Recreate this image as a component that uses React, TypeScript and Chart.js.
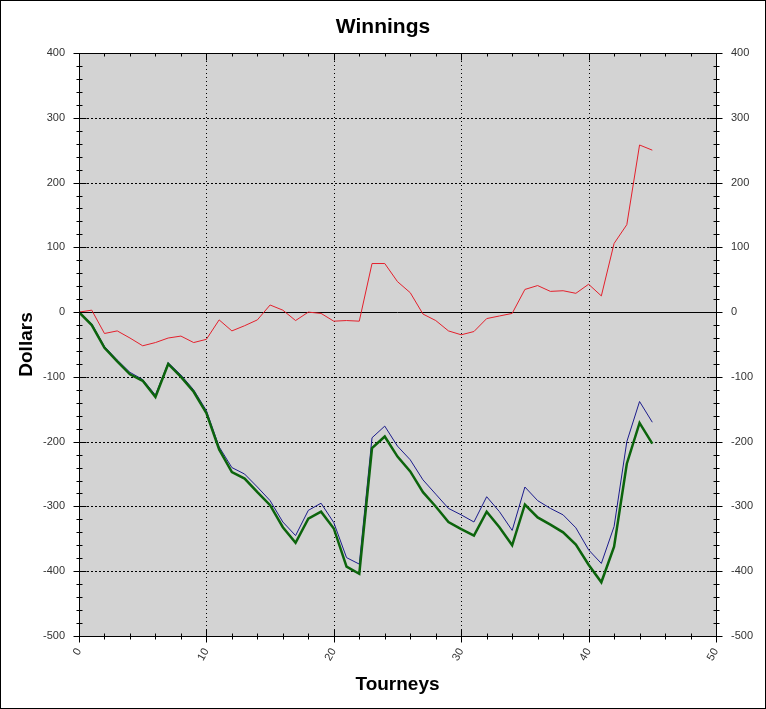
import { useEffect, useRef } from "react"
import { Chart, registerables } from "chart.js"

Chart.register(...registerables)

// Tourney number (x) and the three running totals
const tourneys = [
  0, 1, 2, 3, 4, 5, 6, 7, 8, 9, 10, 11, 12, 13, 14, 15, 16, 17, 18, 19, 20, 21, 22,
  23, 24, 25, 26, 27, 28, 29, 30, 31, 32, 33, 34, 35, 36, 37, 38, 39, 40, 41, 42, 43, 44, 45,
]
const redLine = [
  0, 3, -33, -29, -40, -52, -47, -40, -37, -47, -42, -12, -29, -21, -12, 11, 3, -13, 0, -2, -14, -13, -14,
  75, 75, 47, 30, -3, -13, -29, -35, -30, -10, -6, -2, 35, 41, 32, 33, 29, 43, 25, 106, 135, 258, 250,
]
const blueLine = [
  0, -18, -53, -74, -93, -104, -128, -78, -97, -120, -152, -208, -240, -250, -270, -291, -324, -345, -306, -295, -325, -379, -389,
  -194, -176, -207, -228, -259, -281, -303, -313, -324, -285, -308, -337, -270, -291, -303, -313, -333, -367, -388, -331, -200, -138, -170,
]
const greenLine = [
  0, -20, -55, -76, -96, -106, -131, -80, -100, -123, -156, -212, -247, -257, -278, -298, -332, -356, -319, -308, -334, -393, -404,
  -210, -192, -223, -246, -278, -300, -324, -335, -345, -308, -332, -360, -297, -317, -328, -340, -359, -390, -417, -362, -234, -171, -203,
]

const xGridLines = [10, 20, 30, 40]
const yGridLines = [-400, -300, -200, -100, 100, 200, 300]

const FONT = "'Liberation Sans', Arial, sans-serif"

const toPoints = (vals: number[]) => vals.map((y, i) => ({ x: tourneys[i], y }))

const framePlugin = {
  id: "frame",
  beforeDraw(chart: any) {
    const { ctx, chartArea: a, width, height } = chart
    ctx.save()
    ctx.fillStyle = "#fff"
    ctx.fillRect(0, 0, width, height)
    ctx.fillStyle = "#d3d3d3"
    ctx.fillRect(a.left, a.top, a.right - a.left, a.bottom - a.top)
    ctx.restore()
  },
  beforeDatasetsDraw(chart: any) {
    const { ctx, chartArea: a } = chart
    const xs = chart.scales.x
    const ys = chart.scales.y
    ctx.save()
    ctx.strokeStyle = "#000"
    ctx.lineWidth = 1
    // dotted grid
    ctx.setLineDash([1, 3])
    xGridLines.forEach((v) => {
      const px = Math.round(xs.getPixelForValue(v)) + 0.5
      ctx.beginPath()
      ctx.moveTo(px, a.top)
      ctx.lineTo(px, a.bottom)
      ctx.stroke()
    })
    ctx.setLineDash([2, 2])
    yGridLines.forEach((v) => {
      const py = Math.round(ys.getPixelForValue(v)) + 0.5
      ctx.beginPath()
      ctx.moveTo(a.left, py)
      ctx.lineTo(a.right, py)
      ctx.stroke()
    })
    // zero line
    ctx.setLineDash([])
    const zy = Math.round(ys.getPixelForValue(0)) + 0.5
    ctx.beginPath()
    ctx.moveTo(a.left, zy)
    ctx.lineTo(a.right, zy)
    ctx.stroke()
    ctx.restore()
  },
  afterDraw(chart: any) {
    const { ctx, chartArea: a, width, height } = chart
    const xs = chart.scales.x
    const ys = chart.scales.y
    const L = Math.round(a.left) + 0.5
    const R = Math.round(a.right) + 0.5
    const T = Math.round(a.top) + 0.5
    const B = Math.round(a.bottom) + 0.5
    ctx.save()
    ctx.strokeStyle = "#000"
    ctx.lineWidth = 1
    ctx.beginPath()
    ctx.moveTo(L, T)
    ctx.lineTo(R, T)
    ctx.lineTo(R, B)
    ctx.lineTo(L, B)
    ctx.closePath()
    // x ticks, minor every 2, major every 10
    for (let v = 0; v <= 50; v += 2) {
      const px = Math.round(xs.getPixelForValue(v)) + 0.5
      const major = v % 10 === 0
      ctx.moveTo(px, B - (major ? 7 : 3))
      ctx.lineTo(px, B + (major ? 6 : 3))
      ctx.moveTo(px, T)
      ctx.lineTo(px, T + (major ? 7 : 3))
    }
    // y ticks, minor every 20, major every 100
    for (let v = -500; v <= 400; v += 20) {
      const py = Math.round(ys.getPixelForValue(v)) + 0.5
      const major = v % 100 === 0
      ctx.moveTo(L - (major ? 6 : 3), py)
      ctx.lineTo(L + (major ? 7 : 3), py)
      ctx.moveTo(R - (major ? 7 : 3), py)
      ctx.lineTo(R + (major ? 6 : 3), py)
    }
    ctx.stroke()
    // outer border
    ctx.strokeRect(0.5, 0.5, width - 1, height - 1)
    ctx.restore()
  },
}

export default function App() {
  const chartRef = useRef<HTMLCanvasElement>(null)
  const chartInstance = useRef<Chart | null>(null)

  useEffect(() => {
    if (!chartRef.current) return
    if (chartInstance.current) chartInstance.current.destroy()

    const tickFont = { family: FONT, size: 11 }

    chartInstance.current = new Chart(chartRef.current, {
      type: "line",
      data: {
        datasets: [
          {
            data: toPoints(redLine),
            borderColor: "rgb(228, 32, 44)",
            borderWidth: 1,
            pointRadius: 0,
            order: 3,
          },
          {
            data: toPoints(blueLine),
            borderColor: "rgb(28, 28, 140)",
            borderWidth: 1,
            pointRadius: 0,
            order: 2,
          },
          {
            data: toPoints(greenLine),
            borderColor: "rgb(12, 100, 12)",
            borderWidth: 2.5,
            pointRadius: 0,
            order: 1,
          },
        ],
      },
      options: {
        responsive: false,
        animation: false,
        layout: { padding: 0 },
        plugins: {
          legend: { display: false },
          tooltip: { enabled: false },
          title: {
            display: true,
            text: "Winnings",
            color: "#000",
            font: { family: FONT, size: 21, weight: "bold" },
            padding: { top: 15, bottom: 12.8 },
          },
        },
        scales: {
          x: {
            type: "linear",
            min: 0,
            max: 50,
            grid: { display: false, drawTicks: false },
            border: { display: false },
            ticks: { stepSize: 10, minRotation: 60, maxRotation: 60, padding: 10, color: "#333", font: tickFont },
            title: {
              display: true,
              text: "Tourneys",
              color: "#000",
              font: { family: FONT, size: 19, weight: "bold" },
              padding: { top: 0, bottom: 13 },
            },
            afterFit: (s: any) => {
              s.height = 73
            },
          },
          y: {
            min: -500,
            max: 400,
            grid: { display: false, drawTicks: false },
            border: { display: false },
            ticks: { stepSize: 100, padding: 14, color: "#333", font: tickFont },
            title: {
              display: true,
              text: "Dollars",
              color: "#000",
              font: { family: FONT, size: 19, weight: "bold" },
              padding: { top: 15, bottom: 0 },
            },
            afterFit: (s: any) => {
              s.width = 79
            },
          },
          y2: {
            position: "right",
            min: -500,
            max: 400,
            grid: { display: false, drawTicks: false },
            border: { display: false },
            ticks: { stepSize: 100, padding: 15, color: "#333", font: tickFont },
            afterFit: (s: any) => {
              s.width = 50
            },
          },
        },
      },
      plugins: [framePlugin],
    } as any)

    return () => {
      if (chartInstance.current) {
        chartInstance.current.destroy()
        chartInstance.current = null
      }
    }
  }, [])

  return (
    <div style={{ position: "absolute", left: 0, top: 0, width: 766, height: 709 }}>
      <canvas ref={chartRef} width={766} height={709}></canvas>
    </div>
  )
}
